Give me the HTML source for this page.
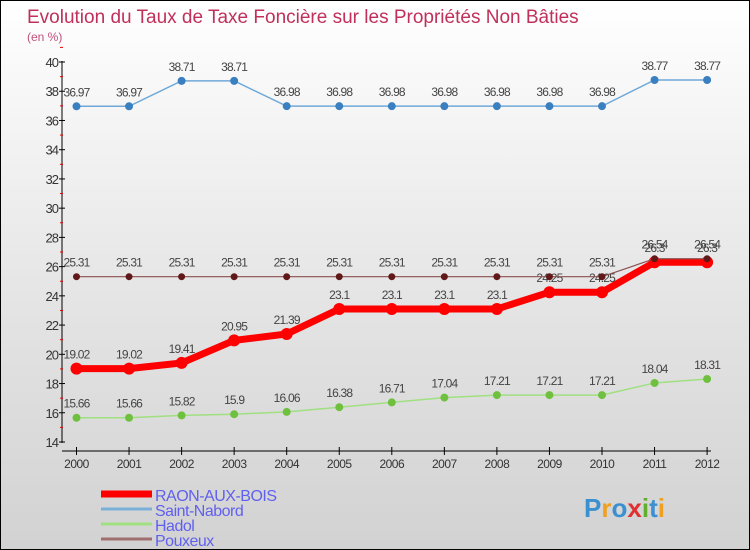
<!DOCTYPE html>
<html><head><meta charset="utf-8"><style>
body{margin:0}
#c{width:750px;height:550px;position:relative;overflow:hidden;background:linear-gradient(#ffffff,#e2e2e2 60%,#d2d2d2);box-sizing:border-box;border:1px solid #000;font-family:"Liberation Sans",sans-serif}
</style></head><body>
<div id="c">
<svg id="s" width="750" height="550" style="position:absolute;left:0;top:0"></svg>
</div>
<script>
const years=["2000","2001","2002","2003","2004","2005","2006","2007","2008","2009","2010","2011","2012"];
const raon=[19.02,19.02,19.41,20.95,21.39,23.1,23.1,23.1,23.1,24.25,24.25,26.3,26.3];
const nabord=[36.97,36.97,38.71,38.71,36.98,36.98,36.98,36.98,36.98,36.98,36.98,38.77,38.77];
const hadol=[15.66,15.66,15.82,15.9,16.06,16.38,16.71,17.04,17.21,17.21,17.21,18.04,18.31];
const pouxeux=[25.31,25.31,25.31,25.31,25.31,25.31,25.31,25.31,25.31,25.31,25.31,26.54,26.54];
const yTicks=[14,16,18,20,22,24,26,28,30,32,34,36,38,40];
const s=document.getElementById('s');const NS='http://www.w3.org/2000/svg';
function X(i){return 75.5+i*52.55}
function Y(v){return 441-(v-14)*14.615}
function el(t,a,txt,name){const e=document.createElementNS(NS,t);for(const k in a)e.setAttribute(k,a[k]);if(txt!==undefined)e.textContent=txt;


s.appendChild(e);return e}
el('text',{x:26,y:22,'font-size':19,fill:'#c0305a'},'Evolution du Taux de Taxe Foncière sur les Propriétés Non Bâties','chart-title');
el('text',{x:26,y:40,'font-size':12,fill:'#c0507a'},'(en %)','y-unit');
el('line',{x1:61,y1:60,x2:61,y2:442,stroke:'#000'},undefined,'y-axis');
el('line',{x1:61,y1:450,x2:710,y2:450,stroke:'#000'},undefined,'x-axis');
yTicks.forEach(v=>{el('line',{x1:58,x2:64,y1:Y(v),y2:Y(v),stroke:'#000'},undefined,'y-tick');
el('line',{x1:59,x2:62,y1:Y(v+1),y2:Y(v+1),stroke:'#e00'},undefined,'y-minor-tick');
el('text',{x:57,y:Y(v)+5,'font-size':13,fill:'#333','text-anchor':'end','letter-spacing':'-1'},v,'y-tick-label')});
years.forEach((y,i)=>{el('line',{x1:X(i),x2:X(i),y1:446,y2:454,stroke:'#000'},undefined,'x-tick');
el('text',{x:X(i),y:467,'font-size':12,fill:'#333','text-anchor':'middle','letter-spacing':'-0.5'},y,'x-tick-label')});
function series(d,color,w,r,fill,name){
el('polyline',{points:d.map((v,i)=>X(i)+','+Y(v)).join(' '),fill:'none',stroke:color,'stroke-width':w},undefined,name+'-line');
d.forEach((v,i)=>{el('circle',{cx:X(i),cy:Y(v),r:r,fill:fill},undefined,name+'-point');
el('text',{x:X(i),y:Y(v)-10,'font-size':12,fill:'#444','text-anchor':'middle','letter-spacing':'-0.8'},v,name+'-value-label')});}
series(nabord,'#6fa8d8',1.5,4,'#3a80c0','saint-nabord');
series(hadol,'#a0e080',1.5,4,'#70c040','hadol');
series(raon,'#f00',7,6,'#f00','raon-aux-bois');
series(pouxeux,'#8a5050',1.2,3.5,'#601818','pouxeux');
const leg=[['RAON-AUX-BOIS','#f00',7],['Saint-Nabord','#7ab0d8',3],['Hadol','#a0e080',3],['Pouxeux','#a07070',3]];
leg.forEach((l,i)=>{const y=493+i*15;el('line',{x1:100,x2:151,y1:y,y2:y,stroke:l[1],'stroke-width':l[2]},undefined,'legend-swatch');
el('text',{x:154,y:y+7,'font-size':16,fill:'#6060f0','letter-spacing':'-0.5'},l[0],'legend-label')});
const logo=el('text',{x:583,y:516,'font-size':26,'font-weight':'bold'},undefined,'logo');
[['P','#3a90d0'],['r','#f0a020'],['o','#3a90d0'],['x','#e03030'],['i','#60b030'],['t','#3a90d0'],['i','#f0a020']].forEach(c=>{const t=document.createElementNS(NS,'tspan');t.setAttribute('fill',c[1]);t.textContent=c[0];logo.appendChild(t)});
</script>
</body></html>
